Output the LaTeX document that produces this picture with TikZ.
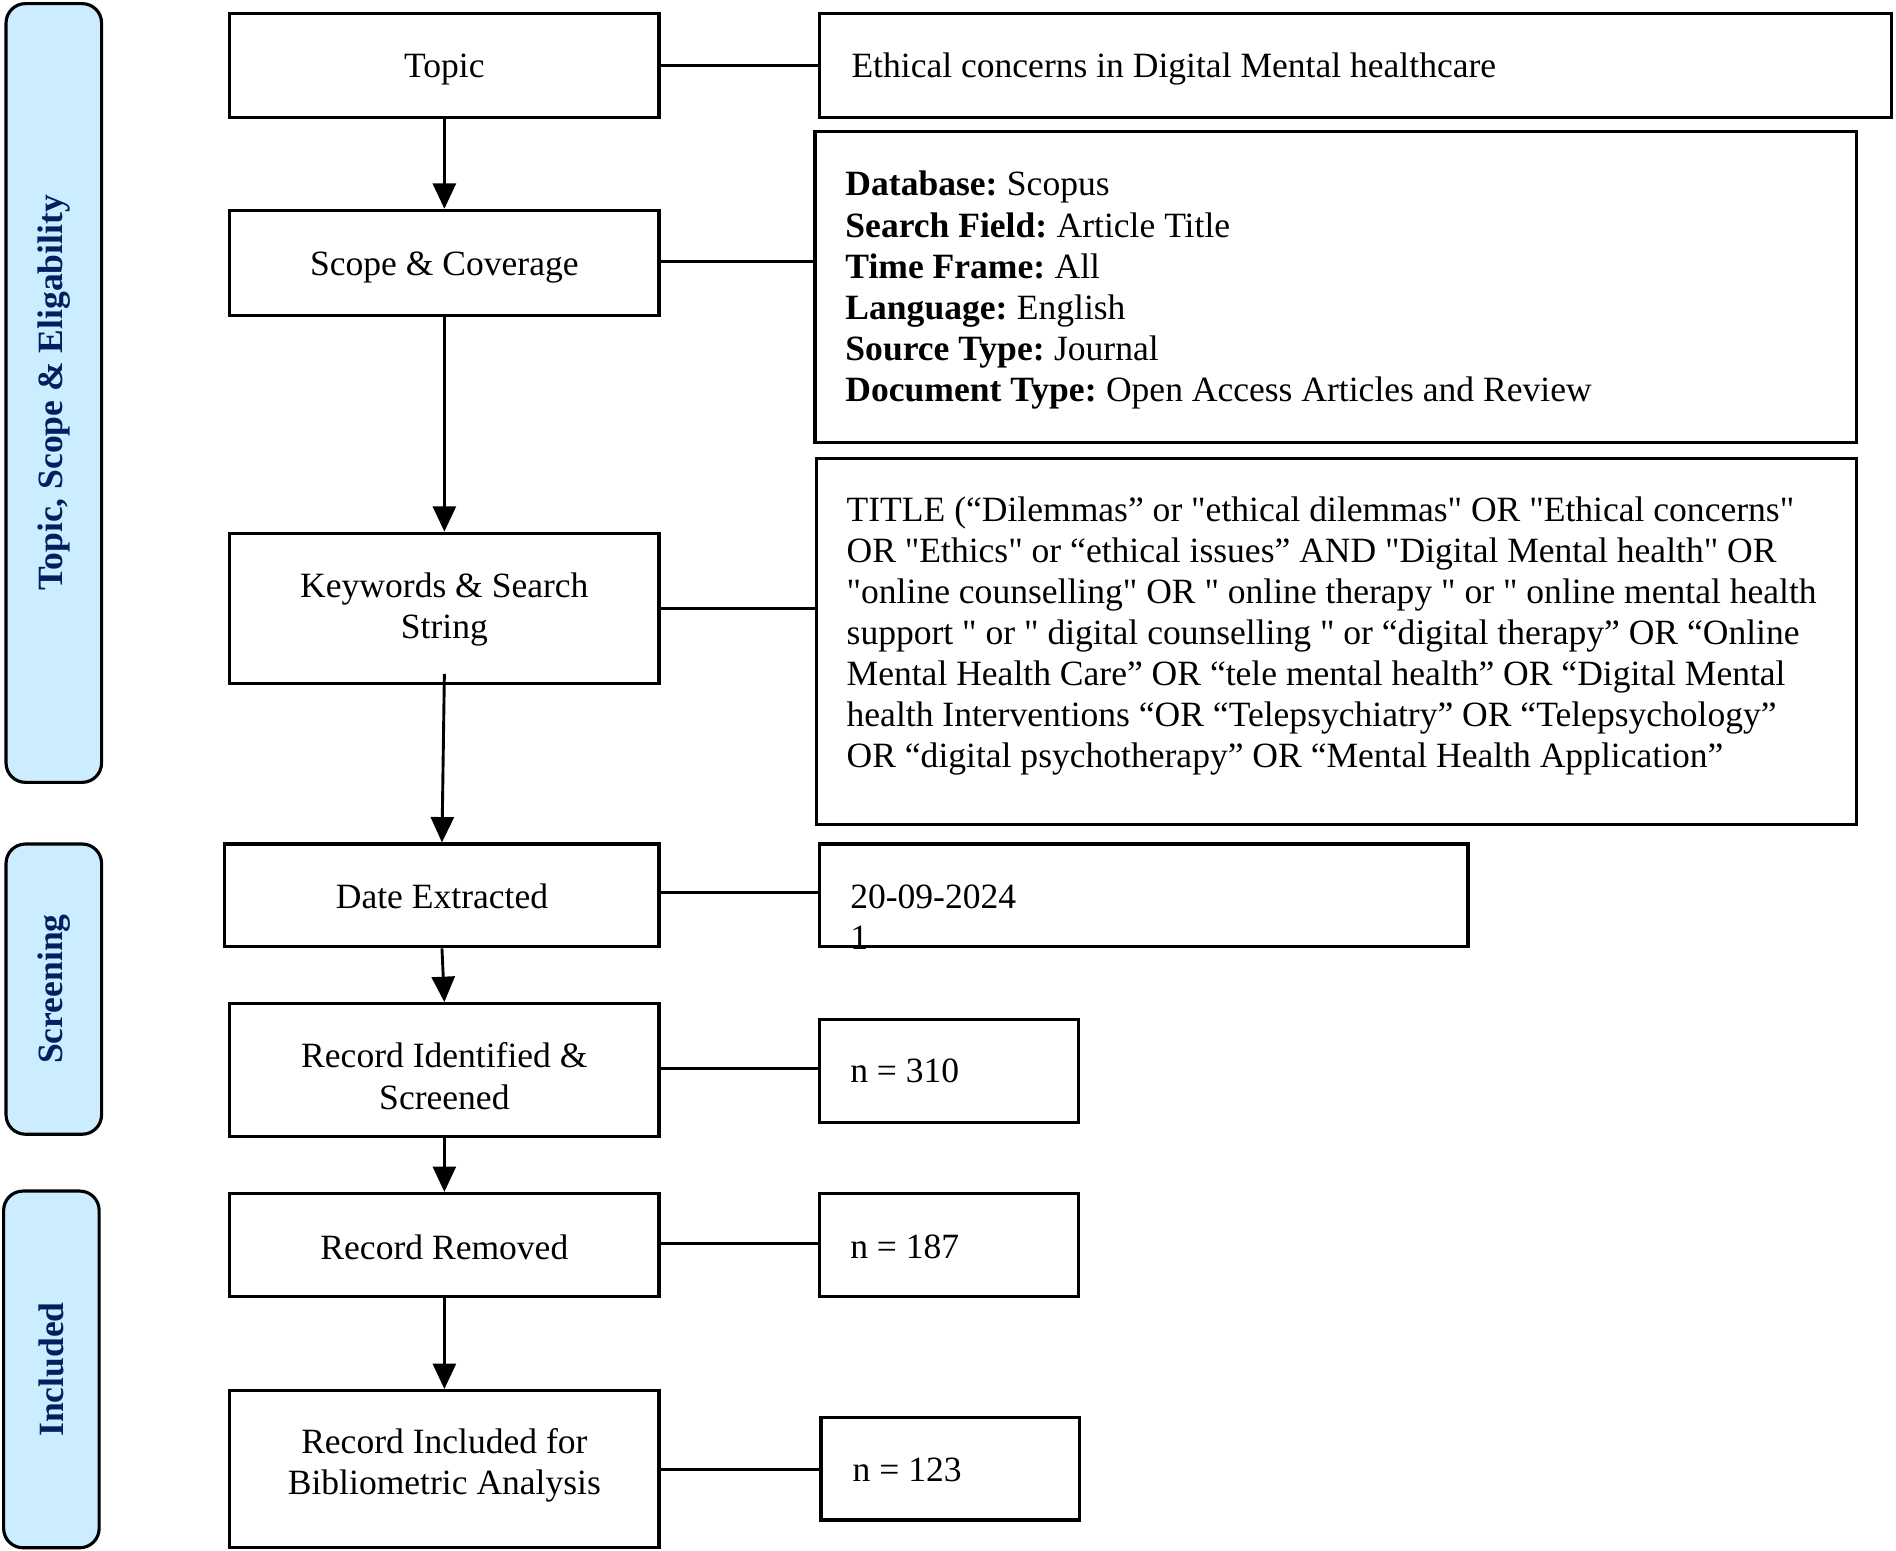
\documentclass[tikz,border=0pt]{standalone}
\usepackage{fontspec}
\setmainfont{Liberation Serif}
\newfontfamily\rawserif{Liberation Serif}
\usetikzlibrary{arrows.meta}
\definecolor{lblue}{RGB}{204,236,255}
\definecolor{navy}{RGB}{0,32,96}
\begin{document}
\begin{tikzpicture}[x=1pt,y=-1pt,
  txt/.style={font=\rawserif\fontsize{29.4}{34}\selectfont},
  stepbox/.style={draw, line width=2.6pt, inner sep=0pt},
  steptext/.style={align=center, inner sep=0pt, txt},
  infobox/.style={draw, line width=2.6pt, inner sep=0pt},
  infotext/.style={anchor=base west, inner sep=0pt, align=left, txt},
  phase/.style={draw, line width=2.6pt, fill=lblue, rounded corners=16pt, inner sep=0pt},
  phaselabel/.style={rotate=90, inner sep=0pt, font=\rawserif\fontsize{29.4}{34}\selectfont\bfseries, text=navy},
  arr/.style={line width=2.4pt, -{Triangle[length=21pt,width=19pt]}},
  conn/.style={line width=2.4pt}]
\useasboundingbox (0,0) rectangle (1568,1282);

% phase boxes
\node[phase, minimum width=79pt, minimum height=644pt] (p1) at (44.5,325) {};
\node[phase, minimum width=79pt, minimum height=240pt] (p2) at (44.5,818) {};
\node[phase, minimum width=79pt, minimum height=295pt] (p3) at (42.5,1132.5) {};
\node[phaselabel] (l1) at (p1.center) {Topic, Scope \& Eligability};
\node[phaselabel] (l2) at (p2.center) {Screening};
\node[phaselabel] (l3) at (p3.center) {Included};

% step boxes
\node[stepbox, minimum width=355pt, minimum height=86pt] (topic) at (367.5,54) {};
\node[stepbox, minimum width=355pt, minimum height=87pt] (scope) at (367.5,217.5) {};
\node[stepbox, minimum width=355pt, minimum height=124pt] (kw) at (367.5,503) {};
\node[stepbox, minimum width=359pt, minimum height=85pt] (date) at (365.5,740.5) {};
\node[stepbox, minimum width=355pt, minimum height=110pt] (recid) at (367.5,885) {};
\node[stepbox, minimum width=355pt, minimum height=85pt] (recrem) at (367.5,1029.5) {};
\node[stepbox, minimum width=355pt, minimum height=130pt] (recinc) at (367.5,1215) {};

\node[steptext] (topicT) at ([yshift=-3.5pt]topic.center) {Topic};
\node[steptext] (scopeT) at ([yshift=-3.5pt]scope.center) {Scope \& Coverage};
\node[steptext] (kwT) at ([yshift=-1pt]kw.center) {Keywords \& Search\\String};
\node[steptext] (dateT) at ([yshift=-1pt]date.center) {Date Extracted};
\node[steptext] (recidT) at ([yshift=-5pt]recid.center) {Record Identified \&\\Screened};
\node[steptext] (recremT) at ([yshift=-2pt]recrem.center) {Record Removed};
\node[steptext] (recincT) at ([yshift=3pt]recinc.center) {Record Included for\\Bibliometric Analysis};

% info boxes
\node[infobox, minimum width=886pt, minimum height=86pt] (eth) at (1121,54) {};
\node[infobox, minimum width=861pt, minimum height=257pt] (db) at (1104.5,237.5) {};
\node[infobox, minimum width=860pt, minimum height=303pt] (ttl) at (1105,530.5) {};
\node[infobox, minimum width=536pt, minimum height=85pt] (dval) at (946,740.5) {};
\node[infobox, minimum width=214pt, minimum height=85pt] (n310) at (785,885.5) {};
\node[infobox, minimum width=214pt, minimum height=85pt] (n187) at (785,1029.5) {};
\node[infobox, minimum width=214pt, minimum height=85pt] (n123) at (786,1214.5) {};

% info texts (anchored at the baseline of the last line)
\node[infotext] (ethT) at (704,64) {Ethical concerns in Digital Mental healthcare};
\node[infotext] (dbT) at (699,332) {\textbf{Database:}\hspace{-2pt} Scopus\\
\textbf{Search Field:}\hspace{-2pt} Article Title\\
\textbf{Time Frame:}\hspace{-2pt} All\\
\textbf{Language:}\hspace{-2pt} English\\
\textbf{Source Type:}\hspace{-2pt} Journal\\
\textbf{Document Type:}\hspace{-2pt} Open Access Articles and Review};
\node[infotext] (ttlT) at (700,635) {TITLE (“Dilemmas” or "ethical dilemmas" OR "Ethical concerns"\\
OR "Ethics" or “ethical issues” AND "Digital Mental health" OR\\
"online counselling" OR " online therapy " or " online mental health\\
support " or " digital counselling " or “digital therapy” OR “Online\\
Mental Health Care” OR “tele mental health” OR “Digital Mental\\
health Interventions “OR “Telepsychiatry” OR “Telepsychology”\\
OR “digital psychotherapy” OR “Mental Health Application”};
\begin{scope}
\clip (dval.south west) rectangle (dval.north east);
\node[infotext] (dvalT) at (703,785) {20-09-2024\\1};
\end{scope}
\node[infotext] (n310T) at (703,895) {n = 310};
\node[infotext] (n187T) at (703,1041) {n = 187};
\node[infotext] (n123T) at (705,1225) {n = 123};

% arrows
\draw[arr] (topic.south) -- (scope.north);
\draw[arr] (scope.south) -- (kw.north);
\draw[arr] ([yshift=9pt]kw.south) -- (date.north);
\draw[arr] (date.south) -- (recid.north);
\draw[arr] (recid.south) -- (recrem.north);
\draw[arr] (recrem.south) -- (recinc.north);

% connectors
\draw[conn] (topic.east) -- (topic.east -| eth.west);
\draw[conn] ([yshift=1.5pt]scope.east) -- ([yshift=1.5pt]scope.east -| db.west);
\draw[conn] (kw.east) -- (kw.east -| ttl.west);
\draw[conn] ([yshift=2.5pt]date.east) -- ([yshift=2.5pt]date.east -| dval.west);
\draw[conn] ([yshift=1pt]recid.east) -- ([yshift=1pt]recid.east -| n310.west);
\draw[conn] ([yshift=1.5pt]recrem.east) -- ([yshift=1.5pt]recrem.east -| n187.west);
\draw[conn] (recinc.east) -- (recinc.east -| n123.west);
\end{tikzpicture}
\end{document}
